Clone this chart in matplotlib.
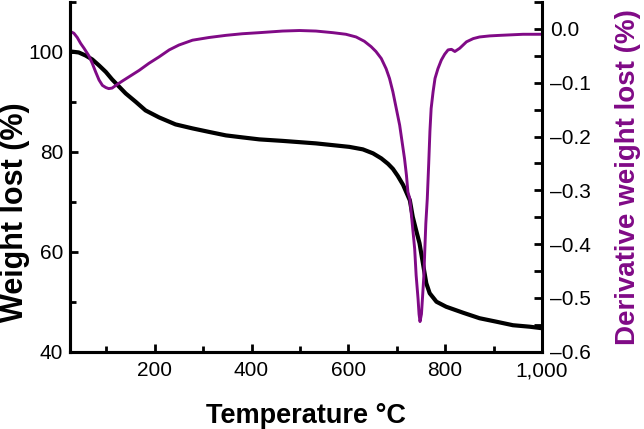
import matplotlib
matplotlib.use("Agg")
import matplotlib.pyplot as plt
from matplotlib.ticker import FuncFormatter, MultipleLocator

plt.rcParams['font.family'] = ['Liberation Sans', 'DejaVu Sans']

# TGA weight curve (left axis)
temp_w = [26, 43, 57, 71, 85, 99, 112, 126, 140, 161, 181, 209, 243, 278, 312,
          347, 381, 416, 464, 533, 602, 630, 651, 668, 682, 692, 702, 713, 727,
          733, 740, 747, 754, 761, 768, 782, 802, 837, 871, 906, 940, 975, 1000]
weight = [100.1, 99.9, 99.3, 98.5, 97.3, 96.0, 94.5, 93.1, 91.7, 90.0, 88.3,
          86.9, 85.5, 84.7, 84.0, 83.3, 82.9, 82.5, 82.2, 81.7, 81.0, 80.5, 79.7,
          78.7, 77.6, 76.6, 75.2, 73.4, 70.3, 67.0, 64.3, 61.7, 57.7, 53.7, 51.7,
          50.0, 49.0, 47.8, 46.7, 46.0, 45.3, 45.0, 44.7]

# Derivative curve (right axis)
temp_d = [26, 33, 40, 47, 54, 64, 71, 78, 85, 92, 99, 105, 112, 123, 133, 147,
          168, 188, 209, 230, 250, 278, 312, 347, 381, 416, 464, 499, 533, 568,
          595, 616, 633, 647, 657, 668, 678, 685, 692, 699, 706, 711, 716, 720,
          723, 727, 732, 737, 740, 744, 746, 748, 751, 753, 756, 758, 760, 763,
          766, 768.5, 771, 775, 779, 785, 792, 799, 806, 813, 820, 830, 844, 858,
          871, 892, 913, 961, 1000]
deriv = [-0.005, -0.008, -0.016, -0.027, -0.036, -0.050, -0.064, -0.080, -0.095,
         -0.105, -0.109, -0.111, -0.110, -0.103, -0.097, -0.089, -0.077, -0.064,
         -0.052, -0.039, -0.030, -0.021, -0.016, -0.012, -0.009, -0.007, -0.004,
         -0.003, -0.004, -0.007, -0.010, -0.015, -0.023, -0.033, -0.042, -0.055,
         -0.074, -0.092, -0.117, -0.148, -0.179, -0.210, -0.241, -0.272, -0.303,
         -0.316, -0.362, -0.409, -0.458, -0.502, -0.530, -0.544, -0.530, -0.502,
         -0.458, -0.409, -0.362, -0.316, -0.250, -0.190, -0.148, -0.117, -0.092,
         -0.074, -0.058, -0.047, -0.039, -0.038, -0.042, -0.036, -0.024, -0.018,
         -0.015, -0.013, -0.012, -0.010, -0.010]

purple = '#800a86'

fig = plt.figure(figsize=(6.44, 4.29), dpi=100)
ax = fig.add_axes([70 / 644, (429 - 351.7) / 429, 472 / 644, 349.7 / 429])
ax2 = ax.twinx()

ax.plot(temp_w, weight, color='black', lw=3.0, solid_joinstyle='round',
        solid_capstyle='round', zorder=3)
ax2.plot(temp_d, deriv, color=purple, lw=2.1, solid_joinstyle='round')

ax.set_xlim(25, 1000)
ax.set_ylim(40, 110)
ax2.set_ylim(-0.6, 0.05)

ax.xaxis.set_major_locator(MultipleLocator(200))
ax.xaxis.set_minor_locator(MultipleLocator(100))
ax.yaxis.set_major_locator(MultipleLocator(20))
ax.yaxis.set_minor_locator(MultipleLocator(10))
ax2.yaxis.set_major_locator(MultipleLocator(0.1))
ax2.yaxis.set_minor_locator(MultipleLocator(0.05))

ax.xaxis.set_major_formatter(FuncFormatter(lambda v, p: f"{int(round(v)):,}"))
ax.yaxis.set_major_formatter(FuncFormatter(lambda v, p: f"{int(round(v))}"))
def rfmt(v, p):
    s = f"{abs(v):.1f}"
    return s if abs(v) < 1e-9 else ("\u2013" + s if v < 0 else s)
ax2.yaxis.set_major_formatter(FuncFormatter(rfmt))

for a in (ax, ax2):
    a.spines['top'].set_visible(False)
    for s in a.spines.values():
        s.set_linewidth(2.2)
ax.spines['right'].set_visible(False)

ax.tick_params(axis='x', which='major', direction='in', length=6, width=2,
               labelsize=15, pad=7)
ax.tick_params(axis='y', which='major', direction='in', length=6, width=2,
               labelsize=15, pad=5)
ax.tick_params(axis='both', which='minor', direction='in', length=4, width=2)
ax2.tick_params(axis='y', which='major', direction='in', length=6, width=2,
                labelsize=15, pad=6)
ax2.tick_params(axis='y', which='minor', direction='in', length=6, width=2)

fig.text(306 / 644, (429 - 423) / 429, 'Temperature \u00b0C', fontsize=19.5,
         fontweight='bold', ha='center', va='baseline')
fig.text(15 / 644, (429 - 212) / 429, 'Weight lost (%)', fontsize=22,
         fontweight='bold', rotation=90, ha='center', va='center')
fig.text(628 / 644, (429 - 177) / 429, 'Derivative weight lost (%)', fontsize=20,
         fontweight='bold', color=purple, rotation=90, ha='center', va='center')

fig.savefig('out.png', dpi=100)
